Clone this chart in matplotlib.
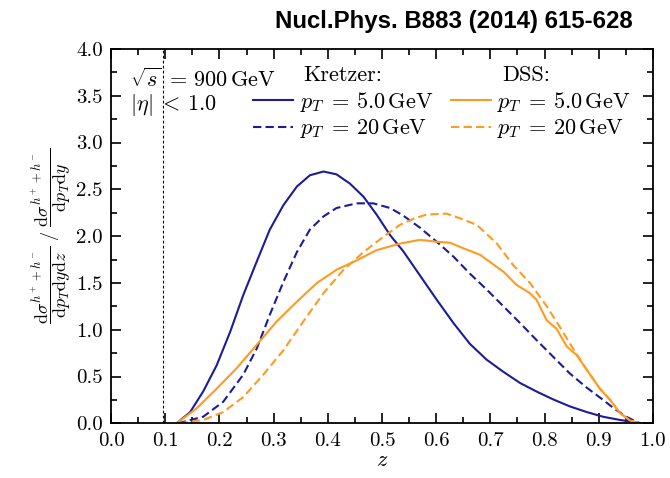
import numpy as np
import matplotlib
matplotlib.use('Agg')
import matplotlib.pyplot as plt
from matplotlib.ticker import MultipleLocator, FormatStrFormatter

plt.rcParams['font.family'] = 'serif'
plt.rcParams['font.serif'] = ['cmr10']
plt.rcParams['mathtext.fontset'] = 'cm'
plt.rcParams['axes.formatter.use_mathtext'] = True

# Kretzer, pT = 5 GeV
z_kr5 = [0.121, 0.146, 0.170, 0.195, 0.220, 0.244, 0.269, 0.293, 0.318, 0.343, 0.367, 0.392,
         0.416, 0.441, 0.466, 0.490, 0.515, 0.539, 0.570, 0.601, 0.632, 0.662, 0.693, 0.724,
         0.755, 0.785, 0.816, 0.847, 0.878, 0.908, 0.940, 0.970, 0.980]
v_kr5 = [0.0, 0.12, 0.34, 0.62, 0.98, 1.37, 1.73, 2.07, 2.33, 2.53, 2.65, 2.69,
         2.66, 2.56, 2.42, 2.23, 2.01, 1.84, 1.58, 1.32, 1.07, 0.85, 0.68, 0.55,
         0.43, 0.34, 0.255, 0.18, 0.12, 0.07, 0.035, 0.01, 0.0]

# Kretzer, pT = 20 GeV
z_kr20 = [0.123, 0.170, 0.207, 0.244, 0.269, 0.293, 0.318, 0.343, 0.367, 0.392, 0.416, 0.453,
          0.484, 0.515, 0.539, 0.570, 0.601, 0.632, 0.662, 0.693, 0.724, 0.755, 0.785, 0.816,
          0.847, 0.878, 0.908, 0.930, 0.951, 0.975]
v_kr20 = [0.0, 0.07, 0.23, 0.52, 0.80, 1.16, 1.51, 1.83, 2.07, 2.21, 2.30, 2.35,
          2.35, 2.30, 2.22, 2.09, 1.94, 1.78, 1.60, 1.43, 1.25, 1.07, 0.89, 0.71,
          0.53, 0.38, 0.25, 0.15, 0.07, 0.0]

# DSS, pT = 5 GeV
z_dss5 = [0.121, 0.158, 0.195, 0.232, 0.269, 0.306, 0.343, 0.380, 0.416, 0.453, 0.490, 0.533,
          0.570, 0.601, 0.625, 0.650, 0.681, 0.712, 0.724, 0.748, 0.773, 0.785, 0.804, 0.822,
          0.841, 0.859, 0.878, 0.902, 0.921, 0.939, 0.958, 0.975]
v_dss5 = [0.0, 0.16, 0.37, 0.59, 0.84, 1.09, 1.30, 1.50, 1.64, 1.74, 1.85, 1.92,
          1.96, 1.94, 1.93, 1.87, 1.80, 1.67, 1.62, 1.48, 1.39, 1.32, 1.10, 1.01,
          0.82, 0.73, 0.57, 0.37, 0.25, 0.11, 0.03, 0.0]

# DSS, pT = 20 GeV
z_dss20 = [0.126, 0.170, 0.207, 0.244, 0.281, 0.318, 0.355, 0.392, 0.429, 0.466, 0.502, 0.533,
           0.560, 0.582, 0.619, 0.644, 0.675, 0.712, 0.742, 0.773, 0.804, 0.828, 0.847, 0.878,
           0.902, 0.921, 0.939, 0.958, 0.975]
v_dss20 = [0.0, 0.035, 0.12, 0.28, 0.52, 0.78, 1.09, 1.39, 1.64, 1.83, 1.99, 2.12,
           2.19, 2.23, 2.24, 2.19, 2.12, 1.92, 1.69, 1.50, 1.25, 1.03, 0.85, 0.57,
           0.37, 0.25, 0.11, 0.03, 0.0]

z_cut = 0.095

blue = '#1c1c98'
orange = '#ff9a22'

fig = plt.figure(figsize=(6.7, 4.78), dpi=100)
ax = fig.add_axes([0.1657, 0.1144, 0.8089, 0.7833])

l1, = ax.plot(z_kr5, v_kr5, color=blue, lw=1.5)
l2, = ax.plot(z_kr20, v_kr20, color=blue, lw=1.5, dashes=(4, 2))
l3, = ax.plot(z_dss5, v_dss5, color=orange, lw=1.5)
l4, = ax.plot(z_dss20, v_dss20, color=orange, lw=1.5, dashes=(4, 2))
ax.axvline(z_cut, color='black', lw=0.8, dashes=(2.5, 2))

ax.set_xlim(0, 1)
ax.set_ylim(0, 4)
ax.xaxis.set_major_locator(MultipleLocator(0.1))
ax.xaxis.set_minor_locator(MultipleLocator(0.05))
ax.yaxis.set_major_locator(MultipleLocator(0.5))
ax.yaxis.set_minor_locator(MultipleLocator(0.25))
ax.xaxis.set_major_formatter(FormatStrFormatter('%.1f'))
ax.yaxis.set_major_formatter(FormatStrFormatter('%.1f'))
ax.tick_params(which='both', direction='in', top=True, right=True, labelsize=15, width=1.2)
ax.tick_params(which='major', length=7, pad=6)
ax.tick_params(which='minor', length=4)
for s in ax.spines.values():
    s.set_linewidth(1.3)

ax.set_xlabel(r'$z$', fontsize=16, labelpad=1)
ax.set_ylabel(r'$\dfrac{\mathrm{d}\sigma^{h^++h^-}}{\mathrm{d}p_T\mathrm{d}y\mathrm{d}z}\ /\ \dfrac{\mathrm{d}\sigma^{h^++h^-}}{\mathrm{d}p_T\mathrm{d}y}$',
              fontsize=13, labelpad=2)

ax.text(0.035, 0.92, r'$\sqrt{s}\;=\,900\,\mathrm{GeV}$', transform=ax.transAxes, fontsize=16, va='center')
ax.text(0.035, 0.85, r'$|\eta|\;<\,1.0$', transform=ax.transAxes, fontsize=16, va='center')
ax.text(0.355, 0.93, 'Kretzer:', transform=ax.transAxes, fontsize=16, va='center')
ax.text(0.722, 0.93, 'DSS:', transform=ax.transAxes, fontsize=16, va='center')

labels = [r'$p_T\;=\,5.0\,\mathrm{GeV}$', r'$p_T\;=\,20\,\mathrm{GeV}$']
leg1 = ax.legend([l1, l2], labels,
                 loc='upper left', bbox_to_anchor=(0.262, 0.89), frameon=False, fontsize=16,
                 handlelength=1.8, handletextpad=0.3, labelspacing=0.15, borderpad=0, borderaxespad=0)
ax.add_artist(leg1)
ax.legend([l3, l4], labels,
          loc='upper left', bbox_to_anchor=(0.627, 0.89), frameon=False, fontsize=16,
          handlelength=1.8, handletextpad=0.3, labelspacing=0.15, borderpad=0, borderaxespad=0)

fig.text(0.944, 0.955, 'Nucl.Phys. B883 (2014) 615-628', fontsize=17.3, fontweight='bold',
         family='Liberation Sans', ha='right', va='center')

fig.savefig('out.png', dpi=100)
